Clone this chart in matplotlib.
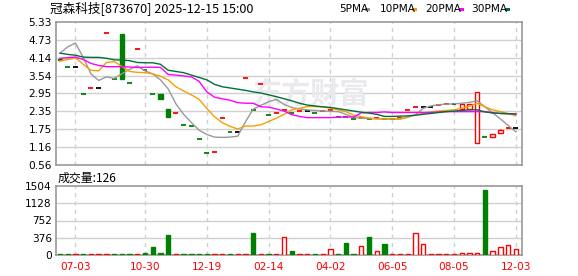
import numpy as np
import matplotlib
matplotlib.use("Agg")
import matplotlib.pyplot as plt
from matplotlib.patches import Rectangle

# ---- data ----
title = "冠森科技[873670] 2025-12-15 15:00"
xtick_pos = [2, 11, 19, 27, 35, 43, 51, 59]
xtick_labels = ["07-03", "10-30", "12-19", "02-14", "04-02", "06-05", "08-05", "12-03"]
price_ticks = ["0.56", "1.16", "1.75", "2.35", "2.95", "3.54", "4.14", "4.73", "5.33"]
vol_ticks = ["0", "376", "752", "1128", "1504"]

opens = [4.10, 3.82, 3.82, 2.92, 3.12, 3.12, 4.95, 3.42, 4.93, 3.29,
         4.42, 3.73, 2.92, 2.92, 2.43, 2.29, 1.89, 1.86, 1.42, 0.95,
         0.99, 2.12, 1.67, 1.67, 3.45, 2.40, 3.25, 2.23, 2.29, 2.40,
         2.29, 2.36, 2.36, 2.29, 2.36, 2.40, 2.17, 2.15, 2.10, 2.12,
         2.08, 2.12, 2.09, 2.09, 2.12, 2.40, 2.49, 2.49, 2.49, 2.56,
         2.58, 2.58, 2.43, 2.43, 1.31, 1.51, 1.51, 1.62, 1.81, 1.81]
closes = [4.05, 3.82, 3.82, 2.92, 3.12, 3.12, 4.95, 3.42, 3.42, 3.29,
          4.42, 3.73, 2.92, 2.75, 2.17, 2.29, 1.89, 1.86, 1.42, 0.95,
          0.99, 2.12, 1.67, 1.67, 3.45, 2.40, 3.25, 2.23, 2.29, 2.40,
          2.29, 2.36, 2.36, 2.29, 2.36, 2.40, 2.17, 2.15, 2.10, 2.12,
          2.08, 2.12, 2.09, 2.09, 2.12, 2.40, 2.49, 2.49, 2.49, 2.56,
          2.58, 2.58, 2.58, 2.58, 2.99, 1.51, 1.59, 1.73, 1.81, 1.81]
highs = [max(o, c) for o, c in zip(opens, closes)]
highs[57] = 1.77
lows = [min(o, c) for o, c in zip(opens, closes)]

volume = [30, 30, 30, 30, 30, 30, 30, 30, 30, 30,
          30, 45, 180, 45, 440, 30, 30, 30, 30, 30,
          30, 30, 30, 30, 30, 490, 30, 30, 30, 390,
          90, 30, 30, 30, 30, 125, 30, 265, 30, 195,
          400, 90, 250, 30, 30, 30, 485, 240, 30, 30,
          30, 30, 45, 50, 50, 1415, 90, 175, 220, 126]

ma5 = [4.29, 4.50, 4.63, 4.15, 3.60, 3.38, 3.50, 3.45, 3.60, 3.75,
       3.87, 3.70, 3.60, 3.40, 3.10, 2.60, 2.25, 1.98, 1.72, 1.58,
       1.49, 1.48, 1.49, 1.52, 2.00, 2.42, 2.55, 2.67, 2.75, 2.58,
       2.48, 2.43, 2.40, 2.38, 2.36, 2.35, 2.34, 2.25, 2.15, 2.12,
       2.11, 2.10, 2.10, 2.09, 2.09, 2.15, 2.23, 2.45, 2.53, 2.57,
       2.59, 2.60, 2.62, 2.65, 2.70, 2.50, 2.30, 2.10, 1.88, 1.67]
ma10 = [4.03, 4.08, 4.13, 3.92, 3.72, 3.70, 3.98, 4.01, 3.85, 3.68,
        3.65, 3.64, 3.60, 3.52, 3.40, 3.17, 3.03, 2.90, 2.75, 2.45,
        2.17, 1.97, 1.85, 1.76, 1.86, 1.86, 1.90, 2.01, 2.12, 2.25,
        2.40, 2.45, 2.51, 2.51, 2.50, 2.45, 2.40, 2.34, 2.22, 2.17,
        2.13, 2.10, 2.10, 2.10, 2.10, 2.17, 2.23, 2.28, 2.33, 2.36,
        2.38, 2.40, 2.45, 2.52, 2.62, 2.50, 2.40, 2.34, 2.28, 2.20]
ma20 = [4.12, 4.14, 4.16, 4.08, 3.95, 3.88, 3.84, 3.84, 3.84, 3.83,
        3.81, 3.82, 3.82, 3.82, 3.58, 3.56, 3.53, 3.50, 3.35, 3.00,
        2.82, 2.77, 2.72, 2.64, 2.62, 2.62, 2.50, 2.49, 2.43, 2.36,
        2.24, 2.18, 2.14, 2.14, 2.14, 2.14, 2.16, 2.16, 2.16, 2.30,
        2.31, 2.31, 2.33, 2.31, 2.31, 2.31, 2.31, 2.31, 2.31, 2.33,
        2.34, 2.34, 2.34, 2.34, 2.34, 2.34, 2.30, 2.28, 2.27, 2.27]
ma30 = [4.29, 4.25, 4.22, 4.16, 4.15, 4.15, 4.12, 4.07, 4.06, 4.04,
        3.98, 3.97, 3.97, 3.92, 3.72, 3.68, 3.64, 3.56, 3.48, 3.40,
        3.25, 3.17, 3.13, 3.09, 3.05, 3.00, 2.96, 2.90, 2.84, 2.77,
        2.70, 2.62, 2.56, 2.53, 2.50, 2.48, 2.44, 2.40, 2.36, 2.32,
        2.29, 2.25, 2.18, 2.18, 2.19, 2.20, 2.22, 2.25, 2.28, 2.31,
        2.34, 2.36, 2.38, 2.40, 2.40, 2.33, 2.30, 2.28, 2.27, 2.26]

RED = "#ff0000"
GREEN = "#008000"
GRID = "#d0d0d0"
FRAME = "#999999"
ma_colors = ["#999999", "#f4a000", "#ff00ff", "#00703a"]

W, H = 578, 276
fig = plt.figure(figsize=(W / 100, H / 100), dpi=100)
cjk = ["Noto Sans CJK SC", "DejaVu Sans"]

ax1 = fig.add_axes([56 / W, 1 - 165 / H, 466 / W, 143 / H])
ax2 = fig.add_axes([56 / W, 1 - 255 / H, 466 / W, 69 / H])

n = len(closes)
x = np.arange(n)
for ax in (ax1, ax2):
    ax.set_xlim(-0.52, n - 0.2)
    for s in ax.spines.values():
        s.set_color(FRAME)
        s.set_linewidth(1.2)
    ax.tick_params(length=0, labelsize=7.6, pad=3)
    for xp in xtick_pos:
        ax.axvline(xp, color=GRID, lw=1, ls=(0, (3, 3)), zorder=0)
    ax.set_xticks(xtick_pos)

pt = [float(t) for t in price_ticks]
ax1.set_ylim(pt[0], pt[-1])
ax1.set_yticks(pt)
ax1.set_yticklabels(price_ticks)
ax1.set_xticklabels([])
for v in pt[1:-1]:
    ax1.axhline(v, color=GRID, lw=1, zorder=0)

vt = [float(t) for t in vol_ticks]
ax2.set_ylim(vt[0], vt[-1])
ax2.set_yticks(vt)
ax2.set_yticklabels(vol_ticks)
ax2.set_xticklabels(xtick_labels, color=RED, fontsize=7.6)
ax2.tick_params(axis="x", pad=5)
for v in vt[1:-1]:
    ax2.axhline(v, color=GRID, lw=1, zorder=0)

# watermark
ax1.text(0.546, 0.5, "东方财富", transform=ax1.transAxes, ha="center", va="center",
         fontsize=21, color="#e9e9ee", family=cjk, fontweight="bold", zorder=0)

# candles
bw = 0.56
for i in range(n):
    o, c, h, l = opens[i], closes[i], highs[i], lows[i]
    if c > o:
        col = RED
    elif c < o:
        col = GREEN
    elif i == 0 or c == closes[i - 1]:
        col = "black"
    else:
        col = RED if c > closes[i - 1] else GREEN
    if o == c:
        ax1.hlines(c, i - 0.32, i + 0.32, color=col, lw=1.3, zorder=3)
    else:
        lo, hi = min(o, c), max(o, c)
        if h > hi:
            ax1.vlines(i, hi, h, color=col, lw=1, zorder=3)
        if l < lo:
            ax1.vlines(i, l, lo, color=col, lw=1, zorder=3)
        ax1.add_patch(Rectangle((i - bw / 2, lo), bw, hi - lo,
                                facecolor="white" if col == RED else col,
                                edgecolor=col, lw=1, zorder=3))
    # volume bar
    vcol = GREEN if col == GREEN else RED
    ax2.add_patch(Rectangle((i - bw / 2, 0), bw, volume[i],
                            facecolor="white" if vcol == RED else vcol,
                            edgecolor=vcol, lw=1, zorder=3))

for ma, mc in zip([ma5, ma10, ma20, ma30], ma_colors):
    ax1.plot(x, ma, color=mc, lw=1, zorder=4)

# texts
fig.text(50 / W, 1 - 8.5 / H, title, fontsize=9.1, family=cjk, va="center", ha="left")
fig.text(58 / W, 1 - 178 / H, "成交量:" + str(volume[-1]), fontsize=8.6, family=cjk,
         va="center", ha="left")

leg_names = ["5PMA", "10PMA", "20PMA", "30PMA"]
leg_x = [339, 380, 425, 471]
sq_x = [365, 412, 459, 505]
for name, lx, sx, mc in zip(leg_names, leg_x, sq_x, ma_colors):
    fig.text(lx / W, 1 - 9 / H, name, fontsize=7.6, va="center", ha="left")
    fig.patches.append(Rectangle((sx / W, 1 - 11 / H), 5 / W, 3.5 / H,
                                 facecolor=mc, edgecolor="none",
                                 transform=fig.transFigure, figure=fig))

fig.savefig("out.png", dpi=100)
